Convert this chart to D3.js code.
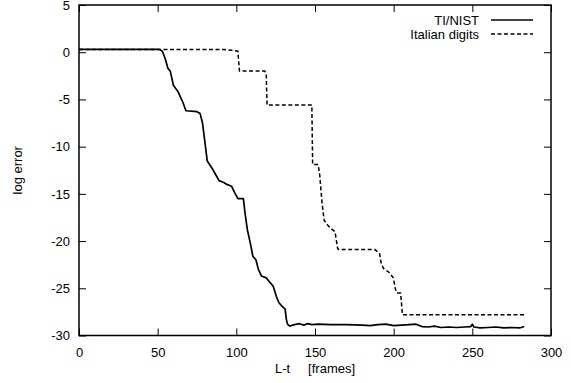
<!DOCTYPE html>
<html>
<head>
<meta charset="utf-8">
<script src="https://cdn.jsdelivr.net/npm/d3@7"></script>
<style>
  html, body { margin: 0; padding: 0; background: #fff; }
  svg { display: block; font-family: "Liberation Sans", Arial, sans-serif; }
</style>
</head>
<body>
<svg id="chart" width="571" height="383"></svg>
<script>
// series: [frames, log error]
const tiNist = [
  [0, 0.3], [51, 0.3], [53, 0.1], [55, -0.8], [56.5, -1.7], [58, -2.0], [60, -3.5], [63, -4.2],
  [66, -5.3], [68, -6.2], [75, -6.3], [77, -6.5], [78.5, -7.5], [80, -9.5], [81.5, -11.5],
  [83, -11.9], [85, -12.4], [87, -13.0], [89, -13.6], [92, -13.8], [94, -14.0], [97, -14.2],
  [99, -14.9], [101, -15.5], [104.5, -15.5], [105.5, -17.0], [107, -18.8], [109, -20.3],
  [110.5, -21.6], [112.5, -22.0], [114, -23.0], [116, -23.7], [119, -23.9], [121, -24.3],
  [123.5, -24.8], [125.5, -25.9], [127, -26.5], [129, -26.9], [131, -27.2], [131.8, -28.3],
  [132.5, -28.8], [134, -29.0], [137, -28.85], [140, -28.75], [143, -28.9], [145, -28.75],
  [148, -28.85], [152, -28.8], [160, -28.85], [170, -28.85], [180, -28.9], [185, -28.95],
  [190, -28.85], [195, -28.8], [200, -28.95], [205, -28.9], [210, -28.85], [214, -28.8],
  [218, -29.05], [222, -29.1], [226, -29.0], [230, -29.15], [235, -29.1], [240, -29.15],
  [245, -29.1], [249, -29.05], [250, -28.8], [251, -29.1], [255, -29.2], [260, -29.15],
  [265, -29.1], [270, -29.2], [275, -29.15], [280, -29.2], [283, -29.05]
];

const italianDigits = [
  [0, 0.3], [92, 0.3], [97, 0.2], [101, 0.1], [101.5, -1.0], [102, -2.0], [118, -2.0],
  [119, -2.2], [119.5, -5.6], [148, -5.6], [148.5, -11.9], [152, -11.9], [153, -13.0],
  [154.5, -16.0], [155.8, -17.8], [158, -18.3], [159.6, -18.6], [162.7, -19.0], [164.4, -20.8],
  [165, -20.9], [188, -20.9], [191, -21.3], [192, -22.3], [193.5, -22.9], [197, -23.3],
  [199.8, -23.9], [201, -25.0], [202, -25.5], [204.4, -25.5], [205.2, -27.0], [205.5, -27.8],
  [283, -27.8]
];

const xTicks = [0, 50, 100, 150, 200, 250, 300];
const yTicks = [5, 0, -5, -10, -15, -20, -25, -30];

const margin = { top: 5, right: 20, bottom: 47.5, left: 79 };
const width = 571 - margin.left - margin.right;
const height = 383 - margin.top - margin.bottom;

const root = d3.select('#chart');
const svg = root.append('g').attr('transform', `translate(${margin.left},${margin.top})`);

const x = d3.scaleLinear().domain([0, 300]).range([0, width]);
const y = d3.scaleLinear().domain([-30, 5]).range([height, 0]);

const fontSize = '13px';

// axes: ticks point inward, mirrored on top/right
const axisB = svg.append('g')
  .attr('transform', `translate(0,${height})`)
  .call(d3.axisBottom(x).tickValues(xTicks).tickSizeInner(-7).tickSizeOuter(0).tickPadding(12));
const axisL = svg.append('g')
  .call(d3.axisLeft(y).tickValues(yTicks).tickSizeInner(-7).tickSizeOuter(0).tickPadding(9));
const axisT = svg.append('g')
  .call(d3.axisTop(x).tickValues(xTicks).tickSizeInner(-7).tickSizeOuter(0).tickFormat(''));
const axisR = svg.append('g')
  .attr('transform', `translate(${width},0)`)
  .call(d3.axisRight(y).tickValues(yTicks).tickSizeInner(-7).tickSizeOuter(0).tickFormat(''));

[axisB, axisL, axisT, axisR].forEach((g) => {
  g.select('.domain').remove();
  g.selectAll('line').attr('stroke', '#000').attr('stroke-width', 1);
  g.selectAll('text').attr('fill', '#000').attr('font-size', fontSize)
    .attr('font-family', '"Liberation Sans", Arial, sans-serif');
});
axisL.selectAll('text').text((d) => d);

// frame
svg.append('rect')
  .attr('x', 0).attr('y', 0)
  .attr('width', width).attr('height', height)
  .attr('fill', 'none').attr('stroke', '#000').attr('stroke-width', 1.5);

const line = d3.line().x((d) => x(d[0])).y((d) => y(d[1]));

svg.append('path')
  .datum(italianDigits)
  .attr('d', line)
  .attr('fill', 'none')
  .attr('stroke', '#000')
  .attr('stroke-width', 1.5)
  .attr('stroke-dasharray', '4,2.5');

svg.append('path')
  .datum(tiNist)
  .attr('d', line)
  .attr('fill', 'none')
  .attr('stroke', '#000')
  .attr('stroke-width', 1.7)
  .attr('stroke-linejoin', 'round');

// legend
const legend = [
  { label: 'TI/NIST', dash: null, yy: 15 },
  { label: 'Italian digits', dash: '4,2.5', yy: 29 },
];
legend.forEach((item) => {
  svg.append('text')
    .attr('x', 479 - margin.left)
    .attr('y', item.yy)
    .attr('dy', '0.35em')
    .attr('text-anchor', 'end')
    .attr('font-size', fontSize)
    .text(item.label);
  svg.append('line')
    .attr('x1', 491 - margin.left).attr('x2', 533 - margin.left)
    .attr('y1', item.yy).attr('y2', item.yy)
    .attr('stroke', '#000')
    .attr('stroke-width', 1.5)
    .attr('stroke-dasharray', item.dash);
});

// axis titles
root.append('text')
  .attr('transform', `translate(22,${margin.top + height / 2}) rotate(-90)`)
  .attr('text-anchor', 'middle')
  .attr('font-size', fontSize)
  .text('log error');

// x title: gnuplot-style wide gap between the two parts
const xTitle = root.append('text')
  .attr('x', margin.left + width / 2)
  .attr('y', 373)
  .attr('text-anchor', 'middle')
  .attr('font-size', fontSize);
xTitle.append('tspan').text('L-t');
xTitle.append('tspan').attr('dx', 18).text('[frames]');
</script>
</body>
</html>
